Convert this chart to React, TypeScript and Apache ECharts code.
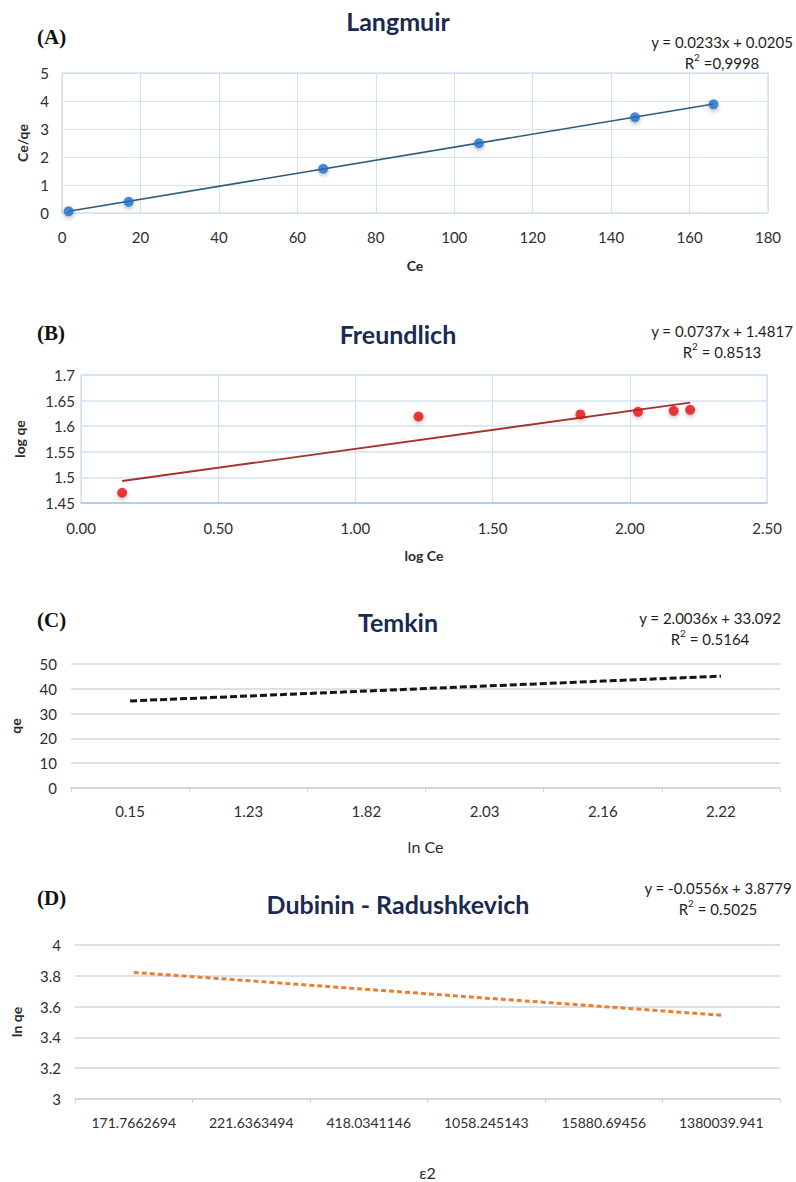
import React, { useEffect, useRef } from "react";
import * as echarts from "echarts";

// ---- Data ----
// (A) Langmuir
const langmuirCe = [1.7, 17.0, 66.6, 106.3, 146.1, 166.1];
const langmuirCeQe = [0.06, 0.4, 1.58, 2.49, 3.42, 3.88];
const langmuirFitX = [1.7, 166.1];
const langmuirFitY = [0.06, 3.89];
const langmuirXTicks = { min: 0, max: 180, interval: 20 };
const langmuirYTicks = { min: 0, max: 5, interval: 1 };

// (B) Freundlich
const freundLogCe = [0.15, 1.23, 1.82, 2.03, 2.16, 2.22];
const freundLogQe = [1.47, 1.619, 1.623, 1.628, 1.63, 1.632];
const freundFitX = [0.15, 2.22];
const freundFitY = [1.493, 1.646];

// (C) Temkin
const temkinCategories = ["0.15", "1.23", "1.82", "2.03", "2.16", "2.22"];
const temkinQe = [35.1, 37.1, 39.1, 41.1, 43.1, 45.1];

// (D) Dubinin - Radushkevich
const drCategories = [
  "171.7662694",
  "221.6363494",
  "418.0341146",
  "1058.245143",
  "15880.69456",
  "1380039.941",
];
const drLnQe = [3.822, 3.767, 3.711, 3.655, 3.6, 3.544];

const FONT = "Lato, 'Noto Sans', sans-serif";
const SERIF = "'Liberation Serif', 'DejaVu Serif', serif";
const TITLE_COLOR = "#1B2A50";
const TICK_COLOR = "#2E2E2E";
const NAME_COLOR = "#2A2A2A";
const GRID_BLUE = "#D3E2F0";
const BORDER_BLUE = "#BCD4EA";
const GRID_GRAY = "#D9E1EA";

function pairs(xs: number[], ys: number[]) {
  return xs.map((x, i) => [x, ys[i]]);
}

function eqText(x: number, y: number, eq: string, r2: string) {
  return {
    type: "text",
    x,
    y,
    style: {
      text: eq + "\nR{s|2}" + r2,
      align: "center",
      verticalAlign: "top",
      fontFamily: FONT,
      fontSize: 15,
      lineHeight: 21,
      fill: "#1E1E1E",
      rich: {
        s: { fontSize: 10, lineHeight: 21, verticalAlign: "top", fontFamily: FONT, fill: "#1E1E1E" },
      },
    },
  };
}

function letter(y: number, t: string) {
  return {
    type: "text",
    x: 37,
    y,
    style: {
      text: t,
      align: "left",
      verticalAlign: "middle",
      fontFamily: SERIF,
      fontWeight: "bold",
      fontSize: 21,
      fill: "#111",
    },
  };
}

const titleStyle = {
  fontFamily: FONT,
  fontWeight: "bold" as const,
  fontSize: 25,
  color: TITLE_COLOR,
};

const labelStyle = { fontFamily: FONT, fontSize: 15, color: TICK_COLOR };

const option: any = {
  animation: false,
  backgroundColor: "#ffffff",
  title: [
    { text: "Langmuir", left: "center", top: 8, padding: 0, textStyle: titleStyle },
    { text: "Freundlich", left: "center", top: 321, padding: 0, textStyle: titleStyle },
    { text: "Temkin", left: "center", top: 609, padding: 0, textStyle: titleStyle },
    { text: "Dubinin - Radushkevich", left: "center", top: 891, padding: 0, textStyle: titleStyle },
  ],
  grid: [
    { left: 62, right: 28, top: 73, height: 140, show: true, borderColor: BORDER_BLUE, borderWidth: 1 },
    { left: 81, right: 29, top: 375, height: 128, show: true, borderColor: BORDER_BLUE, borderWidth: 1 },
    { left: 71, right: 16, top: 664, height: 124 },
    { left: 75, right: 16, top: 945, height: 154 },
  ],
  xAxis: [
    {
      gridIndex: 0,
      type: "value",
      min: langmuirXTicks.min,
      max: langmuirXTicks.max,
      interval: langmuirXTicks.interval,
      name: "Ce",
      nameLocation: "middle",
      nameGap: 45,
      nameTextStyle: { fontFamily: FONT, fontWeight: "bold", fontSize: 14, color: NAME_COLOR },
      axisLabel: { ...labelStyle, margin: 16 },
      axisLine: { show: false },
      axisTick: { show: false },
      splitLine: { show: true, lineStyle: { color: GRID_BLUE, width: 1 } },
    },
    {
      gridIndex: 1,
      type: "value",
      min: 0,
      max: 2.5,
      interval: 0.5,
      name: "log Ce",
      nameLocation: "middle",
      nameGap: 45,
      nameTextStyle: { fontFamily: FONT, fontWeight: "bold", fontSize: 14, color: NAME_COLOR },
      axisLabel: { ...labelStyle, margin: 17, formatter: (v: number) => v.toFixed(2) },
      axisLine: { show: true, lineStyle: { color: "#A9C8E6", width: 1.5 } },
      axisTick: { show: false },
      splitLine: { show: true, lineStyle: { color: GRID_BLUE, width: 1 } },
    },
    {
      gridIndex: 2,
      type: "category",
      data: temkinCategories,
      boundaryGap: true,
      name: "ln Ce",
      nameLocation: "middle",
      nameGap: 50,
      nameTextStyle: { fontFamily: FONT, fontSize: 16, color: NAME_COLOR },
      axisLabel: { ...labelStyle, margin: 15, interval: 0 },
      axisLine: { show: true, lineStyle: { color: "#CFD4D9", width: 1.5 } },
      axisTick: { show: true, length: 4, interval: 0, lineStyle: { color: "#CFD4D9" } },
      splitLine: { show: false },
    },
    {
      gridIndex: 3,
      type: "category",
      data: drCategories,
      boundaryGap: true,
      name: "ε2",
      nameLocation: "middle",
      nameGap: 65,
      nameTextStyle: { fontFamily: FONT, fontSize: 16, color: NAME_COLOR },
      axisLabel: { ...labelStyle, fontSize: 14, margin: 16, interval: 0 },
      axisLine: { show: true, lineStyle: { color: "#CFD4D9", width: 1.5 } },
      axisTick: { show: true, length: 4, interval: 0, lineStyle: { color: "#CFD4D9" } },
      splitLine: { show: false },
    },
  ],
  yAxis: [
    {
      gridIndex: 0,
      type: "value",
      min: langmuirYTicks.min,
      max: langmuirYTicks.max,
      interval: langmuirYTicks.interval,
      name: "Ce/qe",
      nameLocation: "middle",
      nameGap: 29,
      nameTextStyle: { fontFamily: FONT, fontWeight: "bold", fontSize: 14, color: NAME_COLOR },
      axisLabel: { ...labelStyle, margin: 13 },
      axisLine: { show: false },
      axisTick: { show: false },
      splitLine: { show: true, lineStyle: { color: GRID_BLUE, width: 1 } },
    },
    {
      gridIndex: 1,
      type: "value",
      min: 1.45,
      max: 1.7,
      interval: 0.05,
      name: "log qe",
      nameLocation: "middle",
      nameGap: 55,
      nameTextStyle: { fontFamily: FONT, fontWeight: "bold", fontSize: 14, color: NAME_COLOR },
      axisLabel: { ...labelStyle, margin: 6 },
      axisLine: { show: false },
      axisTick: { show: false },
      splitLine: { show: true, lineStyle: { color: GRID_BLUE, width: 1.5 } },
    },
    {
      gridIndex: 2,
      type: "value",
      min: 0,
      max: 50,
      interval: 10,
      name: "qe",
      nameLocation: "middle",
      nameGap: 49,
      nameTextStyle: { fontFamily: FONT, fontWeight: "bold", fontSize: 14, color: NAME_COLOR },
      axisLabel: { ...labelStyle, margin: 14 },
      axisLine: { show: false },
      axisTick: { show: false },
      splitLine: { show: true, lineStyle: { color: GRID_GRAY, width: 2 } },
    },
    {
      gridIndex: 3,
      type: "value",
      min: 3,
      max: 4,
      interval: 0.2,
      name: "ln qe",
      nameLocation: "middle",
      nameGap: 52,
      nameTextStyle: { fontFamily: FONT, fontWeight: "bold", fontSize: 14, color: NAME_COLOR },
      axisLabel: { ...labelStyle, margin: 14 },
      axisLine: { show: false },
      axisTick: { show: false },
      splitLine: { show: true, lineStyle: { color: GRID_GRAY, width: 2 } },
    },
  ],
  series: [
    {
      type: "line",
      xAxisIndex: 0,
      yAxisIndex: 0,
      data: pairs(langmuirFitX, langmuirFitY),
      symbol: "none",
      lineStyle: { color: "#2E5C78", width: 1.6 },
      z: 2,
    },
    {
      type: "scatter",
      xAxisIndex: 0,
      yAxisIndex: 0,
      data: pairs(langmuirCe, langmuirCeQe),
      symbolSize: 10,
      itemStyle: {
        color: "#1F6FCB",
        shadowBlur: 4,
        shadowColor: "rgba(0,0,0,0.35)",
        shadowOffsetY: 2,
      },
      z: 3,
    },
    {
      type: "line",
      xAxisIndex: 1,
      yAxisIndex: 1,
      data: pairs(freundFitX, freundFitY),
      symbol: "none",
      lineStyle: { color: "#A8302E", width: 1.8 },
      z: 2,
    },
    {
      type: "scatter",
      xAxisIndex: 1,
      yAxisIndex: 1,
      data: pairs(freundLogCe, freundLogQe),
      symbolSize: 10,
      itemStyle: {
        color: "#E5140F",
        shadowBlur: 4,
        shadowColor: "rgba(0,0,0,0.3)",
        shadowOffsetY: 2,
      },
      z: 3,
    },
    {
      type: "line",
      xAxisIndex: 2,
      yAxisIndex: 2,
      data: temkinQe,
      symbol: "none",
      lineStyle: { color: "#151515", width: 3, type: [7, 3] },
    },
    {
      type: "line",
      xAxisIndex: 3,
      yAxisIndex: 3,
      data: drLnQe,
      symbol: "none",
      lineStyle: { color: "#ED7D31", width: 3, type: [5, 3] },
    },
  ],
  graphic: [
    letter(37, "(A)"),
    letter(333, "(B)"),
    letter(620, "(C)"),
    letter(898, "(D)"),
    eqText(722, 31, "y = 0.0233x + 0.0205", " =0,9998"),
    eqText(722, 320, "y = 0.0737x + 1.4817", " = 0.8513"),
    eqText(710, 607, "y = 2.0036x + 33.092", " = 0.5164"),
    eqText(718, 877, "y = -0.0556x + 3.8779", " = 0.5025"),
  ],
};

export default function App() {
  const ref = useRef<HTMLDivElement>(null);
  useEffect(() => {
    document.body.style.margin = "0";
    const chart = echarts.init(ref.current as HTMLDivElement, null, { renderer: "svg" });
    chart.setOption(option);
    return () => {
      chart.dispose();
    };
  }, []);
  return <div ref={ref} style={{ width: 796, height: 1182 }} />;
}
